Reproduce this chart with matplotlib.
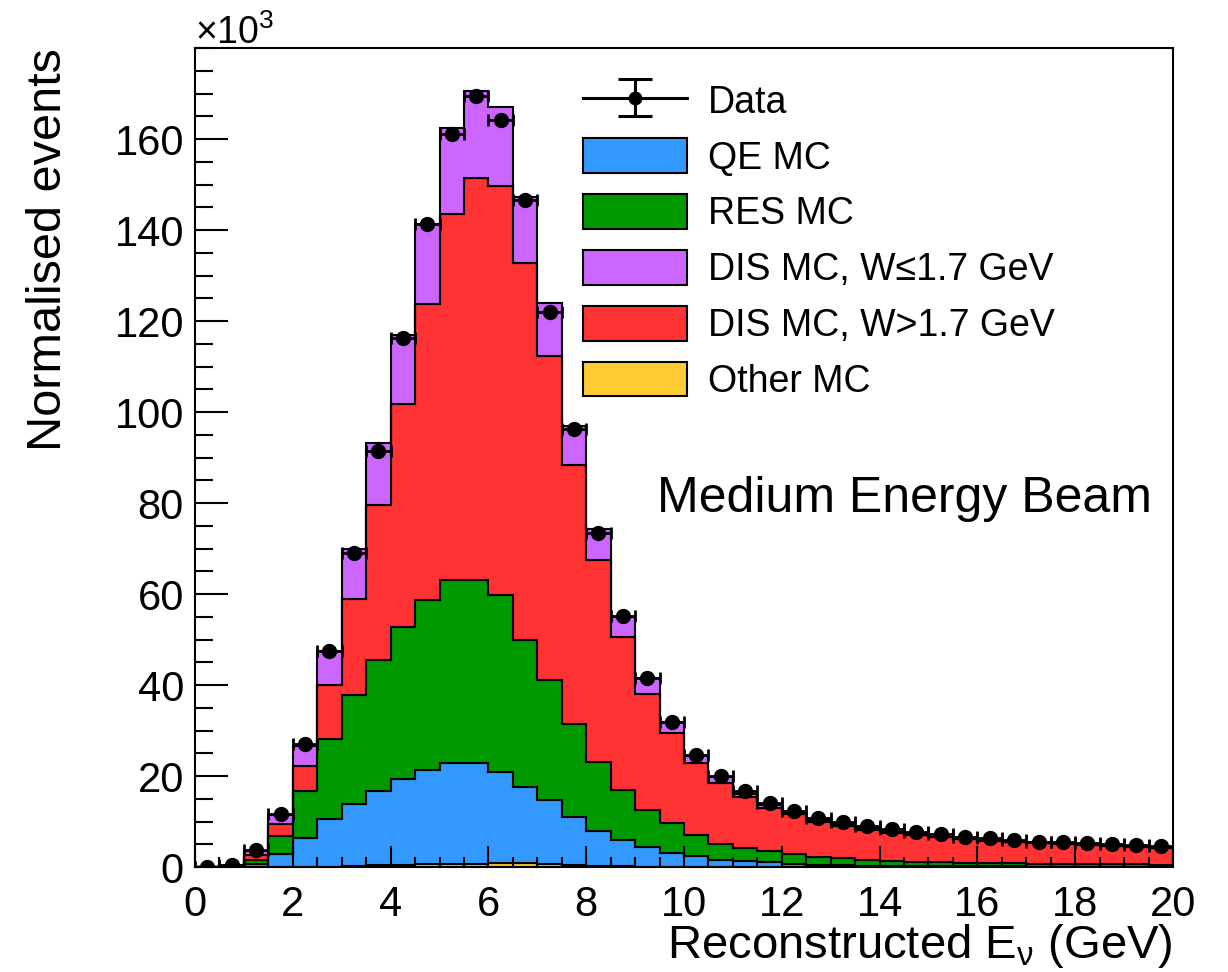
import numpy as np
import matplotlib.pyplot as plt
from matplotlib.ticker import MultipleLocator

plt.rcParams['font.family'] = ['Liberation Sans', 'DejaVu Sans']
plt.rcParams['mathtext.fontset'] = 'custom'
plt.rcParams['mathtext.rm'] = 'Liberation Sans'
plt.rcParams['mathtext.it'] = 'Liberation Sans:italic'

# 0.5 GeV bins from 0 to 20 GeV, event counts in units of 10^3
bin_edges = np.linspace(0, 20, 41)

other_mc = [0.0, 0.0, 0.02, 0.05, 0.08, 0.1, 0.2, 0.4, 0.5, 0.65,
            0.75, 0.75, 0.8, 0.8, 0.7, 0.55, 0.3, 0.2, 0.1, 0.05,
            0.05, 0.04, 0.03, 0.03, 0.02, 0.02, 0.02, 0.02, 0.02, 0.01,
            0.01, 0.01, 0.01, 0.01, 0.01, 0.01, 0.01, 0.01, 0.01, 0.01]
qe_mc = [0.02, 0.1, 0.68, 2.85, 6.32, 10.4, 13.6, 16.2, 18.8, 20.65,
         22.15, 22.05, 20.1, 16.7, 14.0, 10.55, 7.7, 5.7, 4.4, 3.1,
         2.35, 1.5, 1.22, 0.97, 0.63, 0.43, 0.33, 0.28, 0.23, 0.19,
         0.17, 0.14, 0.12, 0.11, 0.09, 0.09, 0.09, 0.08, 0.07, 0.07]
res_mc = [0.02, 0.1, 0.8, 3.9, 10.4, 17.6, 24.0, 28.9, 33.4, 37.4,
          40.2, 40.2, 38.9, 32.5, 26.4, 20.3, 15.0, 11.0, 8.0, 6.45,
          4.6, 3.5, 2.85, 2.5, 2.15, 1.85, 1.55, 1.3, 1.1, 1.0,
          0.87, 0.8, 0.72, 0.68, 0.65, 0.6, 0.55, 0.51, 0.52, 0.47]
dis_high_w = [0.02, 0.1, 1.1, 2.6, 5.5, 12.0, 21.1, 34.1, 49.0, 65.0,
              80.4, 88.4, 89.9, 82.8, 71.2, 57.0, 44.5, 33.7, 25.5, 19.8,
              15.8, 13.35, 11.2, 9.5, 8.8, 7.7, 7.1, 6.5, 6.15, 5.8,
              5.45, 5.15, 4.9, 4.7, 4.55, 4.4, 4.2, 4.05, 3.9, 3.55]
dis_low_w = [0.01, 0.1, 0.9, 2.0, 4.4, 7.4, 11.0, 13.6, 15.2, 17.6,
             19.0, 19.2, 17.3, 14.5, 11.6, 8.6, 6.8, 4.4, 3.5, 2.5,
             1.5, 1.3, 0.7, 0.6, 0.5, 0.3, 0.4, 0.4, 0.3, 0.2,
             0.15, 0.1, 0.1, 0.1, 0.1, 0.1, 0.05, 0.05, 0.05, 0.05]
data = [0.1, 0.5, 3.7, 11.6, 27.0, 47.4, 69.0, 91.4, 116.2, 141.3,
        161.0, 169.5, 164.1, 146.6, 121.9, 96.2, 73.4, 55.2, 41.6, 31.8,
        24.6, 20.1, 16.6, 14.1, 12.4, 10.8, 9.96, 9.0, 8.3, 7.6,
        7.25, 6.7, 6.3, 5.9, 5.6, 5.4, 5.2, 5.0, 4.8, 4.6]
data_err = [0.01, 0.02, 0.06, 0.11, 0.16, 0.22, 0.26, 0.30, 0.34, 0.38,
            0.40, 0.41, 0.40, 0.38, 0.35, 0.31, 0.27, 0.24, 0.20, 0.18,
            0.16, 0.14, 0.13, 0.12, 0.11, 0.10, 0.10, 0.09, 0.09, 0.09,
            0.08, 0.08, 0.08, 0.08, 0.07, 0.07, 0.07, 0.07, 0.07, 0.07]

# bottom to top of the stack
layers = [
    (other_mc, '#ffcc33', 'Other MC'),
    (qe_mc, '#3399ff', 'QE MC'),
    (res_mc, '#009900', 'RES MC'),
    (dis_high_w, '#ff3333', 'DIS MC, W>1.7 GeV'),
    (dis_low_w, '#cc66ff', 'DIS MC, W\u22641.7 GeV'),
]

fig = plt.figure(figsize=(12.28, 9.72), dpi=100)
ax = fig.add_axes([0.1588, 0.108, 0.7964, 0.8426])

handles = {}
bottom = np.zeros(len(bin_edges) - 1)
for vals, col, lab in layers:
    vals = np.asarray(vals)
    h = ax.stairs(bottom + vals, bin_edges, baseline=bottom.copy(), fill=True,
                  facecolor=col, edgecolor='black', linewidth=1.5, label=lab)
    handles[lab] = h
    bottom = bottom + vals

centers = 0.5 * (bin_edges[:-1] + bin_edges[1:])
half_width = 0.5 * np.diff(bin_edges)
ax.errorbar(centers, data, xerr=half_width, yerr=data_err, fmt='o', color='black',
            ms=10, lw=2.0, capsize=4, capthick=2.0, zorder=5)

# legend-only handle: line with marker and vertical bar
data_handle = ax.errorbar([np.nan], [np.nan], yerr=[np.nan], fmt='-o', color='black',
                          ms=9, lw=2.2, capsize=12, capthick=2.2)

order = ['QE MC', 'RES MC', 'DIS MC, W\u22641.7 GeV', 'DIS MC, W>1.7 GeV', 'Other MC']
leg = fig.legend([data_handle] + [handles[k] for k in order], ['Data'] + order,
                 loc='upper left', bbox_to_anchor=(0.4748, 0.915),
                 frameon=False, fontsize=27, borderpad=0, borderaxespad=0,
                 handlelength=2.78, handleheight=1.05, handletextpad=0.55,
                 labelspacing=0.47)

ax.text(0.4724, 0.4335, 'Medium Energy Beam', transform=ax.transAxes,
        fontsize=36, ha='left', va='baseline')

ax.set_xlim(0, 20)
ax.set_ylim(0, 180)
ax.set_xticks(np.arange(0, 21, 2))
ax.set_yticks(np.arange(0, 161, 20))
ax.xaxis.set_minor_locator(MultipleLocator(0.5))
ax.yaxis.set_minor_locator(MultipleLocator(5))
ax.tick_params(which='both', direction='in', top=False, right=False, width=1.5,
               labelsize=30)
ax.tick_params(axis='x', which='major', length=15, pad=13)
ax.tick_params(axis='x', which='minor', length=7.5)
ax.tick_params(axis='y', which='major', length=24, pad=8)
ax.tick_params(axis='y', which='minor', length=13)
for sp in ax.spines.values():
    sp.set_linewidth(1.5)

ax.set_xlabel(r'Reconstructed E$_{\mathrm{\nu}}$ (GeV)', fontsize=34, loc='right')
ax.xaxis.label.set_va('baseline')
ax.xaxis.set_label_coords(1.0, -0.111)
ax.set_ylabel('Normalised events', fontsize=35, loc='top')
ax.yaxis.set_label_coords(-0.127, 1.0)

fig.text(195 / 1228, 1 - 44 / 972, '\u00d710$^{3}$', fontsize=27, ha='left',
         va='baseline')

fig.savefig('out.png', dpi=100)
